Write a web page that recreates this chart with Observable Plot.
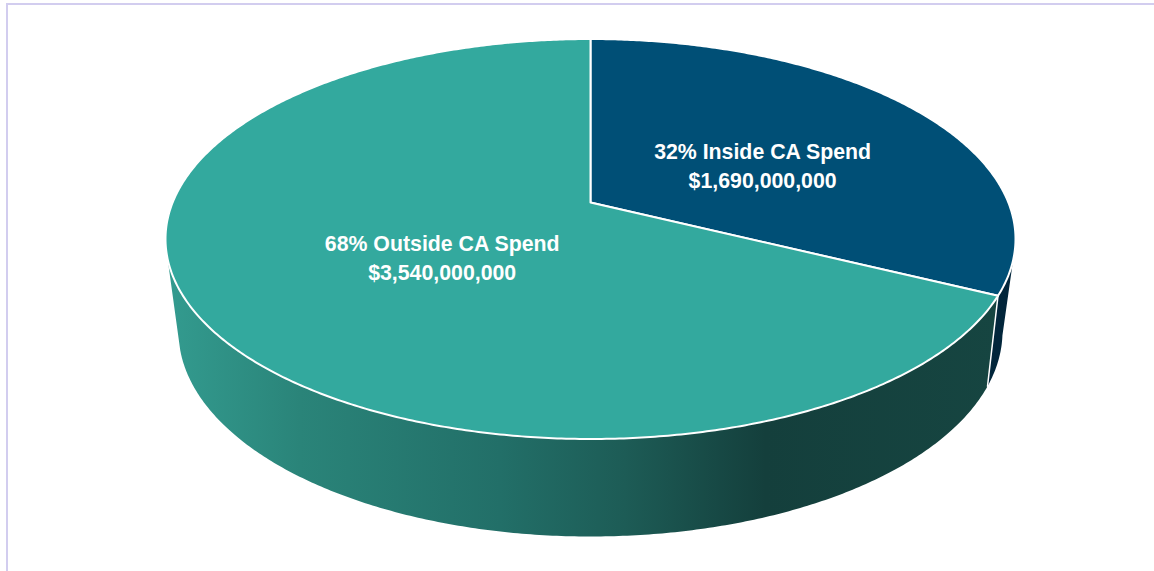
<!DOCTYPE html>
<html>
<head>
<meta charset="utf-8">
<script src="https://cdn.jsdelivr.net/npm/d3@7"></script>
<script src="https://cdn.jsdelivr.net/npm/@observablehq/plot@0.6"></script>
<style>
  html, body { margin: 0; padding: 0; background: #fff; overflow: hidden; }
  #chart { position: absolute; left: 0; top: 0; width: 1154px; height: 571px; }
  #frame { position: absolute; left: 6px; top: 3px; right: 0; bottom: 0; border-left: 2px solid #d2cdef; border-top: 2px solid #d2cdef; }
  #chart svg { position: absolute; left: 0; top: 0; background: transparent; }
</style>
</head>
<body>
<div id="frame"></div>
<div id="chart"></div>
<script>
// Data
const names = ["Inside CA Spend", "Outside CA Spend"];
const spend = [1690000000, 3540000000];
const percents = [32, 68];
const topColors = ["#004f76", "#33a99e"];
const sideColor = "#02263b";

// Projection of the tilted pie (unit-circle -> ellipse homography)
const topRim = {cx: 0, cy: 0, rx: 1, ry: 1, a: -0.1825};
const baseRim = {cx: 0, cy: 0.4625, rx: 0.9694, ry: 1.025, a: -0.2};
const rad = (d) => (d * Math.PI) / 180;
function project(rim, angle, r = 1) {
  const px = r * Math.sin(angle), py = -r * Math.cos(angle);
  const w = 1 + rim.a * py;
  return {
    x: rim.cx + (rim.rx * px * Math.sqrt(1 - rim.a * rim.a)) / w,
    y: rim.cy + (rim.ry * (py + rim.a)) / w
  };
}
const arcPts = (rim, a0, a1) => {
  const n = Math.max(2, Math.ceil(Math.abs(a1 - a0) / rad(0.5)));
  return d3.range(n + 1).map((i) => project(rim, a0 + ((a1 - a0) * i) / n));
};

const arcs = d3.pie().sort(null)(spend);
const split = arcs[0].endAngle;
const slices = arcs.map((s, i) => ({
  fill: topColors[i],
  points: [project(topRim, 0, 0), ...arcPts(topRim, s.startAngle, s.endAngle), project(topRim, 0, 0)]
}));

// Visible side wall runs between these silhouette angles
const topRight = rad(106.5), topLeft = rad(254), baseRight = rad(102.6), baseLeft = rad(253.3);
const navyWall = [...arcPts(topRim, topRight, split), ...arcPts(baseRim, split, baseRight)];
const tealWall = [...arcPts(topRim, split, topLeft), ...arcPts(baseRim, baseLeft, split)];
const splitEdge = [project(topRim, split), project(baseRim, split)];

const fmt = d3.format("$,");
const labels = names.map((n, i) => ({text: `${percents[i]}% ${n}\n${fmt(spend[i])}`}));
labels[0].x = 0.405; labels[0].y = -0.375;
labels[1].x = -0.349; labels[1].y = 0.0875;

const gradStops = [[0, "#339b8f"], [0.16, "#2a8479"], [0.4, "#226f68"], [0.55, "#1d5c56"], [0.72, "#143f3c"], [1, "#164541"]];

const defs = () => {
  const d = d3.create("svg:defs");
  const g = d.append("linearGradient").attr("id", "wallGrad").attr("x1", 0).attr("x2", 1).attr("y1", 0).attr("y2", 0);
  gradStops.forEach(([o, c]) => g.append("stop").attr("offset", o).attr("stop-color", c));
  return d.node();
};

const chart = Plot.plot({
  width: 1154, height: 571, margin: 0,
  style: {background: "transparent"},
  x: {domain: [-1, 1], range: [165, 1015], axis: null},
  y: {domain: [-1, 1], range: [38.5, 438.5], axis: null},
  marks: [
    defs,
    Plot.line(tealWall, {x: "x", y: "y", fill: "url(#wallGrad)", stroke: "none", curve: "linear"}),
    Plot.line(navyWall, {x: "x", y: "y", fill: sideColor, stroke: "none", curve: "linear"}),
    Plot.line(splitEdge, {x: "x", y: "y", stroke: "#fff", strokeWidth: 1.5}),
    ...slices.map((s) => Plot.line(s.points, {x: "x", y: "y", fill: s.fill, stroke: "#fff", strokeWidth: 2, strokeLinejoin: "round"})),
    Plot.text(labels, {x: "x", y: "y", text: "text", fill: "#fff", fontSize: 21.3, fontWeight: "bold", fontFamily: "'Liberation Sans', Arial, sans-serif", lineHeight: 1.36, textAnchor: "middle"})
  ]
});
document.getElementById("chart").append(chart);
</script>
</body>
</html>
